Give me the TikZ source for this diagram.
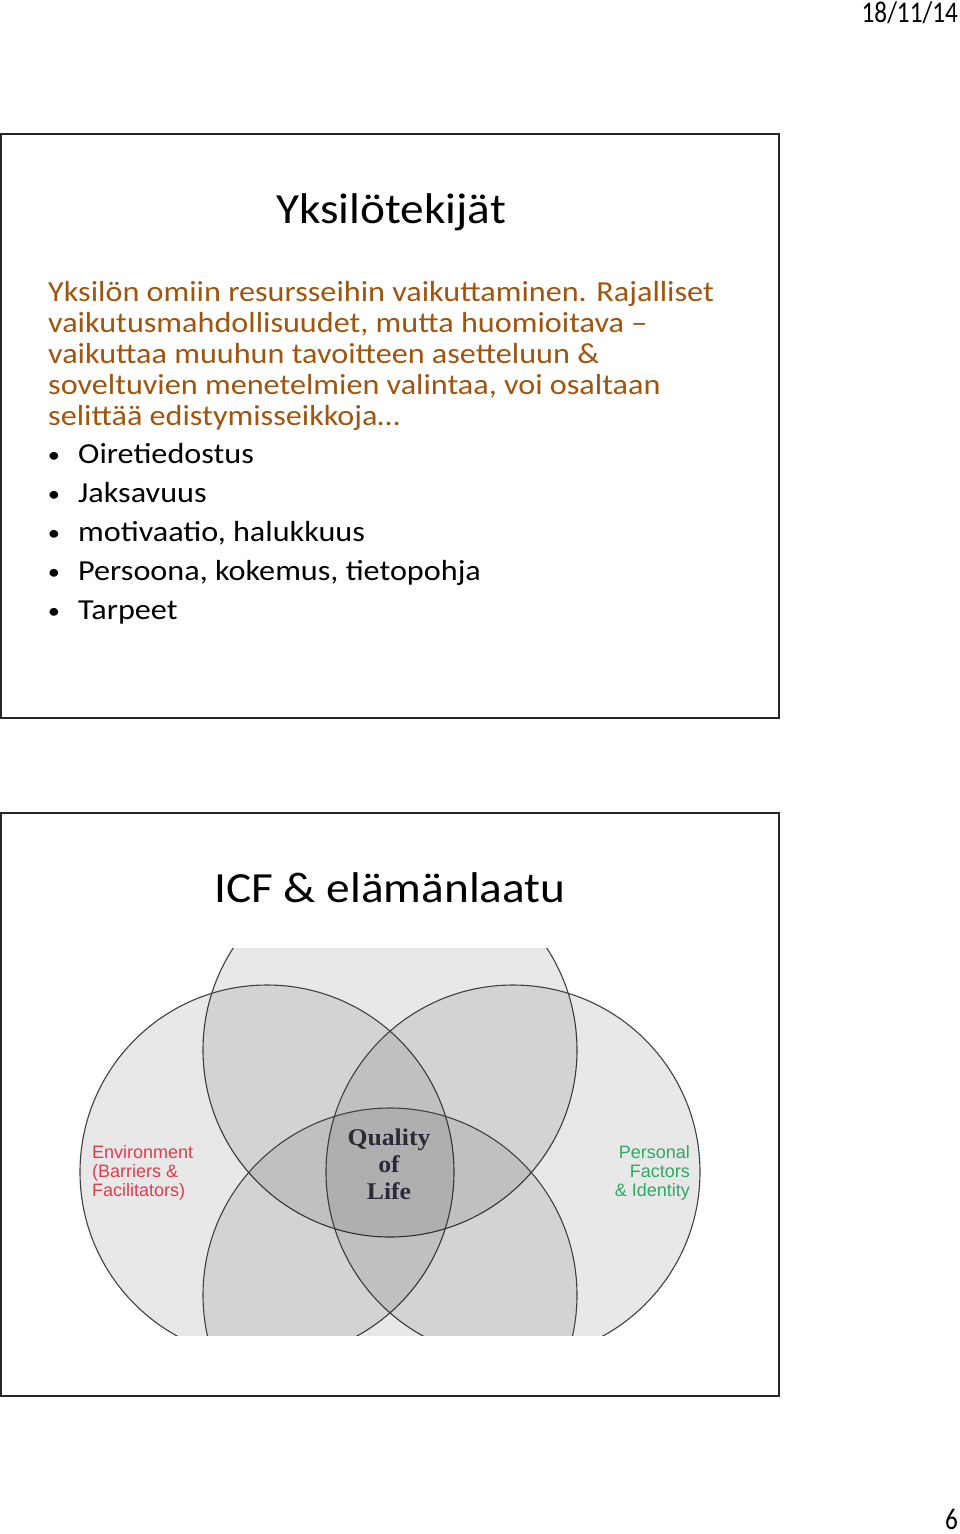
\documentclass[tikz,border=0pt]{standalone}
\usepackage{fontspec}
\usepackage{xcolor}
\usepackage{tikz}
\setmainfont{Carlito}
\newfontfamily\slidefont[FakeStretch=1.11]{Carlito}
\newfontfamily\titlefont[FakeStretch=1.1]{Carlito}
\newfontfamily\datefont[FakeStretch=0.84]{Carlito}
\newfontfamily\labelfont{Liberation Sans}
\newfontfamily\qolfont[FakeStretch=1.07]{Liberation Serif}
\definecolor{bodybrown}{RGB}{160,84,14}
\definecolor{envred}{RGB}{229,58,74}
\definecolor{persgreen}{RGB}{47,168,98}
\definecolor{qoltext}{RGB}{43,43,56}

\begin{document}
\begin{tikzpicture}[x=1pt,y=-1pt,
  slidebox/.style={draw=black!85,line width=1.4pt},
  heading/.style={anchor=base,inner sep=0,font=\titlefont\fontsize{43}{46}\selectfont},
  bodyline/.style={anchor=base west,inner sep=0,text=bodybrown,font=\slidefont\fontsize{29}{31}\selectfont},
  item/.style={anchor=base west,inner sep=0,font=\slidefont\fontsize{29}{31}\selectfont},
  dot/.style={anchor=base,inner sep=0,font=\slidefont\fontsize{22}{24}\selectfont},
  venn/.style={circle,minimum size=374pt,inner sep=0,fill=black,fill opacity=0.09,draw=black!75,draw opacity=1,line width=1.1pt},
  vennlabel/.style={inner sep=0,font=\labelfont\fontsize{18}{19}\selectfont}]
\useasboundingbox (0,0) rectangle (960,1534);

% page furniture
\node[anchor=base east,inner sep=0,font=\datefont\fontsize{30}{32}\selectfont] (date) at (958,22) {18/11/14};
\node[anchor=base east,inner sep=0,font=\datefont\fontsize{30}{32}\selectfont] (page) at (958,1529) {6};

% slide 1
\draw[slidebox] (1,134) rectangle (779,718);
\node[heading] (title1) at (391,223) {Yksilötekijät};
\foreach \txt [count=\i] in {Yksilön omiin resursseihin vaikuttaminen. Rajalliset,
    {vaikutusmahdollisuudet, mutta huomioitava –},
    vaikuttaa muuhun tavoitteen asetteluun \&,
    {soveltuvien menetelmien valintaa, voi osaltaan},
    selittää edistymisseikkoja…}
  \node[bodyline] (body\i) at (48,{270+31*\i}) {\txt};
\foreach \txt [count=\i] in {Oiretiedostus, Jaksavuus, {motivaatio, halukkuus},
    {Persoona, kokemus, tietopohja}, Tarpeet}{
  \node[dot] (dot\i) at (54,{423+39*\i}) {•};
  \node[item] (item\i) at (78,{424+39*\i}) {\txt};
}

% slide 2
\draw[slidebox] (1,813) rectangle (779,1396);
\node[heading] (title2) at (390,902) {ICF \& elämänlaatu};

\begin{scope}
  \clip (0,948) rectangle (960,1335);
  \node[venn] (top) at (390,1050) {};
  \node[venn] (left) at (267,1172) {};
  \node[venn] (right) at (513,1172) {};
  \node[venn] (bottom) at (390,1295) {};
\end{scope}

\node[vennlabel,anchor=north west,align=left,text=envred] (env) at (92,1145)
  {Environment\\(Barriers \&\\Facilitators)};
\node[vennlabel,anchor=north east,align=right,text=persgreen] (pers) at (690,1145)
  {Personal\\Factors\\\& Identity};
\node[inner sep=0,anchor=north,align=center,text=qoltext,
  font=\qolfont\bfseries\fontsize{24}{27}\selectfont] (qol) at (389,1129)
  {Quality\\of\\Life};
\end{tikzpicture}
\end{document}
